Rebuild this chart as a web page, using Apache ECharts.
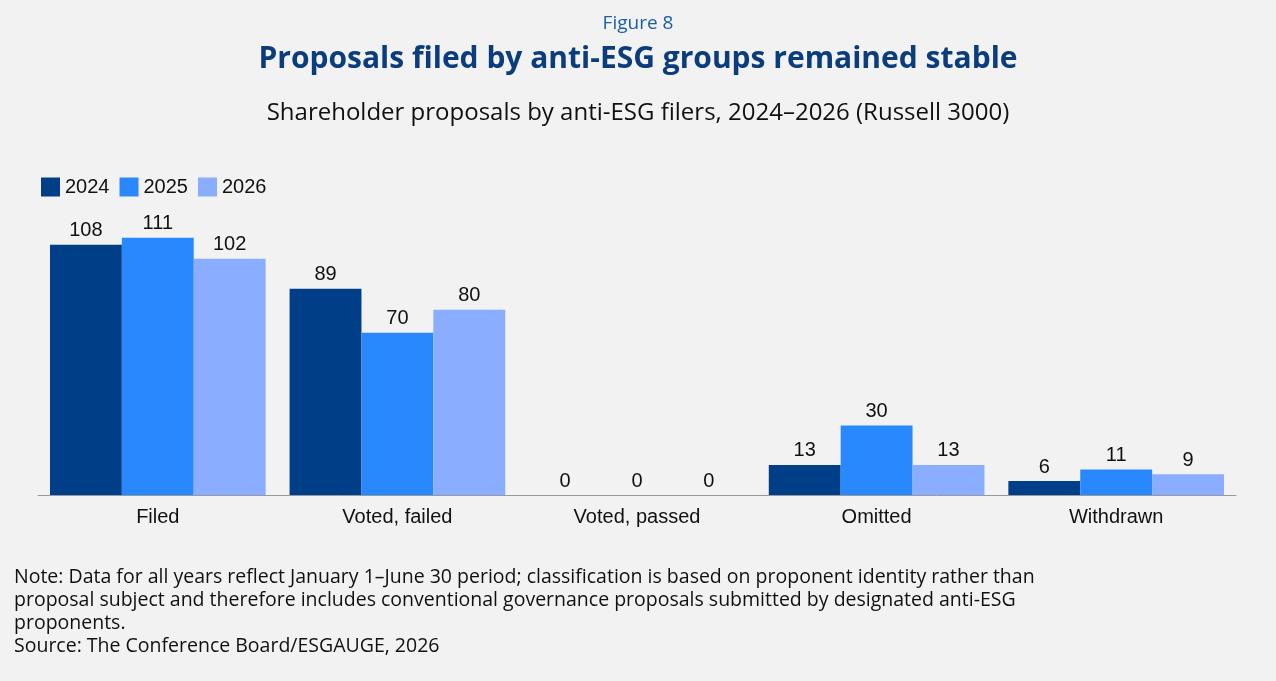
<!DOCTYPE html>
<html><head><meta charset="utf-8">
<script src="https://cdn.jsdelivr.net/npm/echarts@6/dist/echarts.min.js"></script>
<style>html,body{margin:0;padding:0;background:#f2f2f2}#c{width:1276px;height:681px}</style>
</head><body><div id="c"></div>
<script>
const categories = ['Filed','Voted, failed','Voted, passed','Omitted','Withdrawn'];
const s2024 = [108, 89, 0, 13, 6];
const s2025 = [111, 70, 0, 30, 11];
const s2026 = [102, 80, 0, 13, 9];
const years = ['2024','2025','2026'];
const colors = ['#003f87','#2a88ff','#8aadff'];
const F = '"Open Sans", "Noto Sans", sans-serif';
const A = '"Liberation Sans", Arial, sans-serif';
const chart = echarts.init(document.getElementById('c'));
const mk = (name, data, i) => ({
  name, type:'bar', data, barGap:'0%', barCategoryGap:'10%',
  itemStyle:{color:colors[i]},
  label:{show:true, position:'top', color:'#111', fontSize:20, fontFamily:A, distance:4}
});
chart.setOption({
  backgroundColor:'#f2f2f2',
  textStyle:{fontFamily:F},
  title:[
    {text:'Figure 8', left:'center', top:9, textStyle:{color:'#1a5fa8', fontSize:19, fontWeight:'normal', fontFamily:F}},
    {text:'Proposals filed by anti-ESG groups remained stable', left:'center', top:39, textStyle:{color:'#0b3d7d', fontSize:30, fontWeight:'bold', fontFamily:F}},
    {text:'Shareholder proposals by anti-ESG filers, 2024–2026 (Russell 3000)', left:'center', top:96, textStyle:{color:'#111', fontSize:24, fontWeight:'normal', fontFamily:F}}
  ],
  legend:{left:36, top:172, itemWidth:19, itemHeight:19, itemGap:10, icon:'rect',
    textStyle:{fontSize:20, color:'#111', fontFamily:A}, data:years},
  grid:{left:38, right:40, top:217, bottom:186},
  xAxis:{type:'category', data:categories,
    axisLine:{lineStyle:{color:'#999'}}, axisTick:{show:false},
    axisLabel:{fontSize:20, color:'#111', margin:12, fontFamily:A}},
  yAxis:{type:'value', min:0, max:120, show:false, splitLine:{show:false}},
  series:[mk('2024',s2024,0), mk('2025',s2025,1), mk('2026',s2026,2)],
  graphic:[{type:'text', left:14, top:566, style:{
    text:'Note: Data for all years reflect January 1–June 30 period; classification is based on proponent identity rather than\nproposal subject and therefore includes conventional governance proposals submitted by designated anti-ESG\nproponents.\nSource: The Conference Board/ESGAUGE, 2026',
    fontSize:19.5, lineHeight:23, fill:'#111', fontFamily:F}}]
});
</script></body></html>
